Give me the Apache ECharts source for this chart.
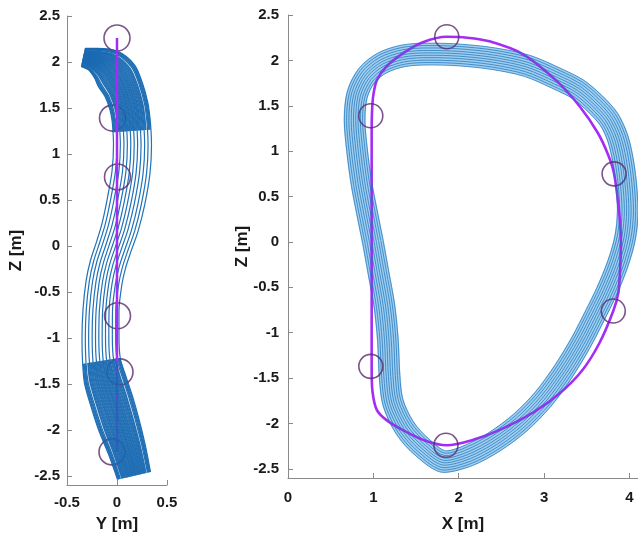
<!DOCTYPE html>
<html>
<head>
<meta charset="utf-8">
<script src="https://cdn.jsdelivr.net/npm/echarts@6/dist/echarts.min.js"></script>
<style>
  html, body { margin: 0; padding: 0; background: #ffffff; }
  #chart { width: 638px; height: 538px; }
</style>
</head>
<body>
<div id="chart"></div>
<script>
// Coil axis in the X-Z plane [m], traced clockwise from the middle of the inboard leg
const coilAxisXZ = [
  [0.98, 0.0], [0.98, 0.7], [0.98, 1.2], [0.985, 1.45], [1.0, 1.62], [1.04, 1.78],
  [1.15, 1.93], [1.35, 2.08], [1.58, 2.2], [1.86, 2.26], [2.1, 2.25], [2.36, 2.21],
  [2.75, 2.07], [3.14, 1.78], [3.42, 1.49], [3.63, 1.2], [3.75, 0.96], [3.82, 0.75],
  [3.88, 0.32], [3.9, 0.0], [3.89, -0.3], [3.87, -0.56], [3.81, -0.76], [3.65, -1.11],
  [3.45, -1.41], [3.18, -1.67], [2.87, -1.88], [2.48, -2.07], [2.17, -2.18], [1.86, -2.24],
  [1.61, -2.19], [1.34, -2.07], [1.15, -1.96], [1.04, -1.85], [0.99, -1.65], [0.98, -1.4],
  [0.98, -0.7], [0.98, 0.0]
];

// Marker positions on the coil axis (X, Z) and their Y position in the side view
const markerXZ = [[1.86, 2.26], [0.97, 1.39], [3.82, 0.75], [3.81, -0.76], [0.97, -1.37], [1.85, -2.24]];
const markerY = [0.0, -0.045, 0.005, 0.005, 0.03, -0.05];

// Centre of the winding pack, X-Z view (closed loop)
const packXZ = [
  [0.995, 0.0], [0.92, 0.35], [0.86, 0.65], [0.81, 1.0], [0.78, 1.34], [0.81, 1.62],
  [0.92, 1.83], [1.1, 1.97], [1.35, 2.05], [1.65, 2.07], [2.0, 2.06], [2.4, 2.02],
  [2.8, 1.94], [3.15, 1.8], [3.4, 1.68], [3.6, 1.52], [3.76, 1.35], [3.86, 1.15],
  [3.92, 0.92], [3.96, 0.65], [3.98, 0.35], [3.95, 0.05], [3.86, -0.25], [3.73, -0.55],
  [3.6, -0.8], [3.43, -1.11], [3.23, -1.42], [2.99, -1.73], [2.72, -1.99], [2.42, -2.2],
  [2.12, -2.35], [1.84, -2.42], [1.57, -2.26], [1.37, -2.05], [1.23, -1.77], [1.19, -1.48],
  [1.17, -1.08], [1.13, -0.71], [1.06, -0.34], [0.995, 0.0]
];
const packXZHalfWidth = 0.12;

// Centre of the winding pack, Y-Z view (open path, top to bottom), with its half width
const packYZ = [
  [-0.34, 2.05], [-0.24, 2.03], [-0.11, 1.97], [-0.005, 1.85], [0.07, 1.69], [0.12, 1.515],
  [0.14, 1.38], [0.15, 1.25], [0.155, 1.1], [0.14, 0.8], [0.09, 0.48], [0.03, 0.2],
  [-0.03, 0.0], [-0.09, -0.2], [-0.13, -0.4], [-0.16, -0.7], [-0.165, -1.0], [-0.155, -1.25],
  [-0.12, -1.45], [-0.05, -1.7], [0.02, -1.95], [0.1, -2.22], [0.17, -2.5]
];
const packYZHalfWidth = [
  0.10, 0.126, 0.186, 0.216, 0.2, 0.193,
  0.19, 0.19, 0.19, 0.19, 0.19, 0.185,
  0.18, 0.18, 0.18, 0.18, 0.185, 0.19,
  0.21, 0.215, 0.21, 0.19, 0.17
];

// Conductor positions across the pack, as fractions of the half width
const turnsXZ = [-1, -0.78, -0.56, -0.33, -0.11, 0.11, 0.33, 0.56, 0.78, 1];
const turnsYZ = [-1, -0.82, -0.64, -0.45, -0.27, -0.09, 0.09, 0.27, 0.45, 0.64, 0.82, 1];
const turnsYZDense = [-0.96, -0.91, -0.87, -0.73, -0.69, -0.6, -0.55, -0.5, -0.41, -0.36,
  -0.32, -0.23, -0.18, -0.13, -0.05, 0.0, 0.05, 0.13, 0.18, 0.23, 0.32, 0.36, 0.41, 0.5,
  0.55, 0.6, 0.69, 0.73, 0.87, 0.91, 0.96];

// Axis ticks
const zTicks = [-2.5, -2, -1.5, -1, -0.5, 0, 0.5, 1, 1.5, 2, 2.5];
const yTicks = [-0.5, 0, 0.5];
const xTicks = [0, 1, 2, 3, 4];

// Shift a path sideways along its local normal by d half-widths
function offsetPath(pts, d, hw, closed) {
  const n = pts.length;
  return pts.map((p, i) => {
    let a, b;
    if (closed) {
      a = i === 0 ? pts[n - 2] : pts[i - 1];
      b = i === n - 1 ? pts[1] : pts[i + 1];
    } else {
      a = pts[Math.max(0, i - 1)];
      b = pts[Math.min(n - 1, i + 1)];
    }
    const w = Array.isArray(hw) ? hw[i] : hw;
    const tx = b[0] - a[0], tz = b[1] - a[1];
    const len = Math.hypot(tx, tz) || 1;
    return [p[0] - d * w * tz / len, p[1] + d * w * tx / len];
  });
}

const FONT = "'Liberation Sans', Arial, Helvetica, sans-serif";
const AXIS_COLOR = '#8a8a8a';
const TEXT_COLOR = '#1a1a1a';
const WIRE = '#1f72b8';
const COIL = '#a42cf4';
const MARKER = '#5a2a6c';

function axisCommon(ticks) {
  return {
    type: 'value',
    axisLine: { show: true, onZero: false, lineStyle: { color: AXIS_COLOR, width: 1 } },
    axisTick: { show: true, inside: true, length: 5, customValues: ticks, lineStyle: { color: AXIS_COLOR } },
    axisLabel: { customValues: ticks, color: TEXT_COLOR, fontFamily: FONT, fontWeight: 'bold', fontSize: 15 },
    splitLine: { show: false },
    nameLocation: 'middle',
    nameMoveOverlap: false,
    nameTextStyle: { color: TEXT_COLOR, fontFamily: FONT, fontWeight: 'bold', fontSize: 17 }
  };
}

const series = [];

// ---- side view (Y-Z) ----
turnsYZ.forEach(d => {
  series.push({
    type: 'line', xAxisIndex: 0, yAxisIndex: 0, z: 1, clip: false,
    data: offsetPath(packYZ, d, packYZHalfWidth, false),
    smooth: 0.3, symbol: 'none', silent: true,
    lineStyle: { color: WIRE, width: 1.2 }
  });
});

const zMax = Math.max(...coilAxisXZ.map(p => p[1]));
const zMin = Math.min(...coilAxisXZ.map(p => p[1]));

series.push({
  type: 'line', xAxisIndex: 0, yAxisIndex: 0, z: 2,
  data: [[0, -1.25], [0, zMin]], symbol: 'none', silent: true,
  lineStyle: { color: COIL, width: 2.5 }
});

series.push({
  type: 'scatter', xAxisIndex: 0, yAxisIndex: 0, z: 3, silent: true,
  data: markerXZ.map((p, i) => [markerY[i], p[1]]),
  symbol: 'circle', symbolSize: 26,
  itemStyle: { color: 'rgba(0,0,0,0)', borderColor: MARKER, borderWidth: 1.6 }
});

// dense parts of the pack seen end-on at the top and bottom
const denseParts = [
  { keep: p => p[1] >= 1.25 },
  { keep: p => p[1] <= -1.25 }
];
denseParts.forEach(part => {
  const idx = packYZ.map((p, i) => i).filter(i => part.keep(packYZ[i]));
  const pts = idx.map(i => packYZ[i]);
  const hw = idx.map(i => packYZHalfWidth[i]);
  turnsYZDense.forEach(d => {
    series.push({
      type: 'line', xAxisIndex: 0, yAxisIndex: 0, z: 4, clip: false,
      data: offsetPath(pts, d, hw, false),
      smooth: 0.3, symbol: 'none', silent: true,
      lineStyle: { color: '#1a69b1', width: 1.5, opacity: 0.9 }
    });
  });
});

series.push({
  type: 'line', xAxisIndex: 0, yAxisIndex: 0, z: 5,
  data: [[0, zMax], [0, -1.25]], symbol: 'none', silent: true,
  lineStyle: { color: COIL, width: 2.5 }
});

// ---- front view (X-Z) ----
series.push({
  type: 'line', xAxisIndex: 1, yAxisIndex: 1, z: 1, clip: false,
  data: packXZ, smooth: 0.3, symbol: 'none', silent: true,
  lineStyle: { color: '#9fcff0', width: 22 }
});

series.push({
  type: 'line', xAxisIndex: 1, yAxisIndex: 1, z: 2,
  data: coilAxisXZ, smooth: 0.3, symbol: 'none', silent: true,
  lineStyle: { color: COIL, width: 2.6 }
});

turnsXZ.forEach(d => {
  series.push({
    type: 'line', xAxisIndex: 1, yAxisIndex: 1, z: 3, clip: false,
    data: offsetPath(packXZ, d, packXZHalfWidth, true),
    smooth: 0.3, symbol: 'none', silent: true,
    lineStyle: { color: WIRE, width: 0.8, opacity: 0.9 }
  });
});

series.push({
  type: 'scatter', xAxisIndex: 1, yAxisIndex: 1, z: 4, silent: true,
  data: markerXZ, symbol: 'circle', symbolSize: 24,
  itemStyle: { color: 'rgba(0,0,0,0)', borderColor: MARKER, borderWidth: 1.6 }
});

const option = {
  animation: false,
  backgroundColor: '#ffffff',
  grid: [
    { left: 67, top: 16, width: 100, height: 473 },
    { left: 288, top: 15, width: 350, height: 463 }
  ],
  xAxis: [
    Object.assign(axisCommon(yTicks), { gridIndex: 0, min: -0.5, max: 0.5, name: 'Y [m]', nameGap: 31 }),
    Object.assign(axisCommon(xTicks), { gridIndex: 1, min: 0, max: 4.1, name: 'X [m]', nameGap: 38 })
  ],
  yAxis: [
    Object.assign(axisCommon(zTicks), { gridIndex: 0, min: -2.6, max: 2.5, name: 'Z [m]', nameGap: 42 }),
    Object.assign(axisCommon(zTicks), { gridIndex: 1, min: -2.6, max: 2.5, name: 'Z [m]', nameGap: 37 })
  ],
  series: series
};

option.xAxis[0].axisLabel.margin = 10;
option.xAxis[1].axisLabel.margin = 12;
option.yAxis[0].axisLabel.margin = 7;
option.yAxis[1].axisLabel.margin = 9;

const chart = echarts.init(document.getElementById('chart'), null, { renderer: 'canvas' });
chart.setOption(option);
</script>
</body>
</html>
